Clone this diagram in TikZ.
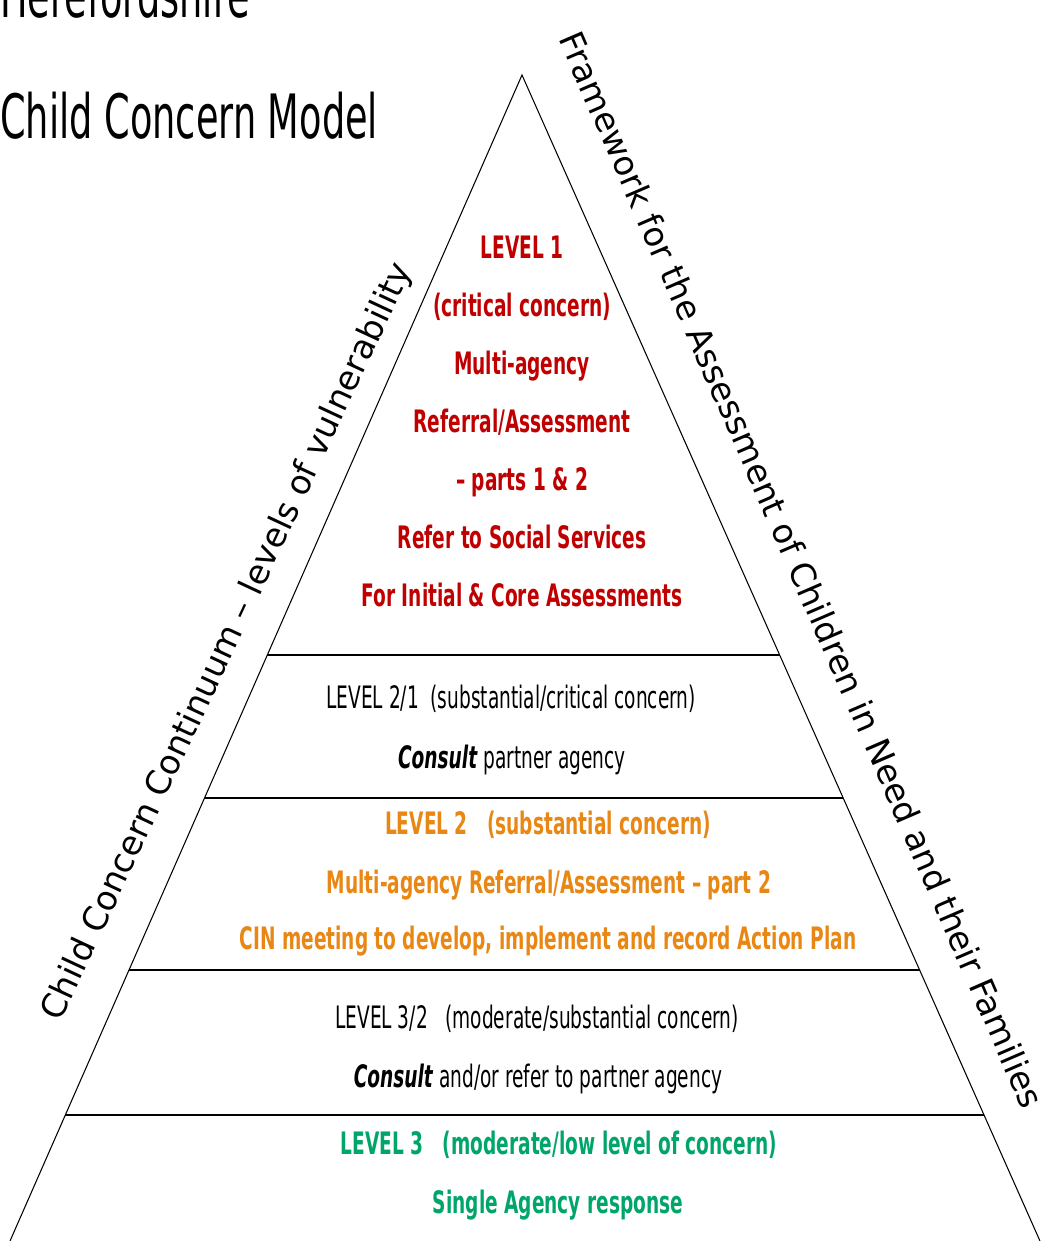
\documentclass[tikz,border=0pt]{standalone}
\usepackage{fontspec}
\setmainfont{DejaVu Sans}[FakeStretch=0.6]
\newfontfamily\sidefont{DejaVu Sans}
\usepackage{xcolor}
\definecolor{LevelRed}{RGB}{192,0,0}
\definecolor{LevelOrange}{RGB}{232,135,20}
\definecolor{LevelGreen}{RGB}{0,165,105}
\usetikzlibrary{positioning,calc}

\begin{document}
\begin{tikzpicture}[
    x=0.02cm, y=-0.02cm,
    title/.style={anchor=base west, inner sep=0pt, font=\fontsize{34.8}{40}\selectfont},
    lvl/.style={anchor=base, inner sep=0pt, font=\fontsize{17.6}{20}\selectfont},
    lvlred/.style={lvl, text=LevelRed, font=\fontsize{17.6}{20}\selectfont\bfseries},
    lvlorange/.style={lvl, text=LevelOrange, font=\fontsize{17.6}{20}\selectfont\bfseries},
    lvlgreen/.style={lvl, text=LevelGreen, font=\fontsize{17.6}{20}\selectfont\bfseries},
    side/.style={inner sep=0pt, font=\sidefont\fontsize{19.2}{22}\selectfont},
    edge/.style={line width=0.6pt},
    band/.style={line width=1.1pt}
]
    \useasboundingbox (0,0) rectangle (1044,1241);

    % titles
    \node[title] (county) at (0,17) {Herefordshire};
    \node[title] (model) at (0,138) {Child Concern Model};

    % pyramid
    \coordinate (apex) at (522,75);
    \coordinate (bl) at (10,1241);
    \coordinate (br) at (1040,1241);
    \draw[edge] (bl) -- (apex) -- (br);
    \foreach \f in {0.4974,0.6201,0.7676,0.8919}
        \draw[band] ($(apex)!\f!(bl)$) -- ($(apex)!\f!(br)$);

    % side labels
    \node[side, rotate=65] (continuum) at (228,642)
        {Child Concern Continuum – levels of vulnerability};
    \node[side, rotate=-66.6] (framework) at (802,570)
        {Framework for the Assessment of Children in Need and their Families};

    % level 1
    \node[lvlred] (l1a) at (522,258) {LEVEL 1};
    \node[lvlred] (l1b) at (522,316) {(critical concern)};
    \node[lvlred] (l1c) at (522,374) {Multi-agency};
    \node[lvlred] (l1d) at (522,432) {Referral/Assessment};
    \node[lvlred] (l1e) at (522,490) {– parts 1 \& 2};
    \node[lvlred] (l1f) at (522,548) {Refer to Social Services};
    \node[lvlred] (l1g) at (522,606) {For Initial \& Core Assessments};

    % level 2/1
    \node[lvl] (l21a) at (511,708) {LEVEL 2/1\ \ (substantial/critical concern)};
    \node[lvl] (l21b) at (512,768) {\textbf{\itshape Consult} partner agency};

    % level 2
    \node[lvlorange] (l2a) at (548,834) {LEVEL 2\ \ \ (substantial concern)};
    \node[lvlorange] (l2b) at (549,893) {Multi-agency Referral/Assessment – part 2};
    \node[lvlorange] (l2c) at (548,949) {CIN meeting to develop, implement and record Action Plan};

    % level 3/2
    \node[lvl] (l32a) at (537,1028) {LEVEL 3/2\ \ \ (moderate/substantial concern)};
    \node[lvl] (l32b) at (538,1087) {\textbf{\itshape Consult} and/or refer to partner agency};

    % level 3
    \node[lvlgreen] (l3a) at (559,1154) {LEVEL 3\ \ \ (moderate/low level of concern)};
    \node[lvlgreen] (l3b) at (558,1213) {Single Agency response};
\end{tikzpicture}
\end{document}
